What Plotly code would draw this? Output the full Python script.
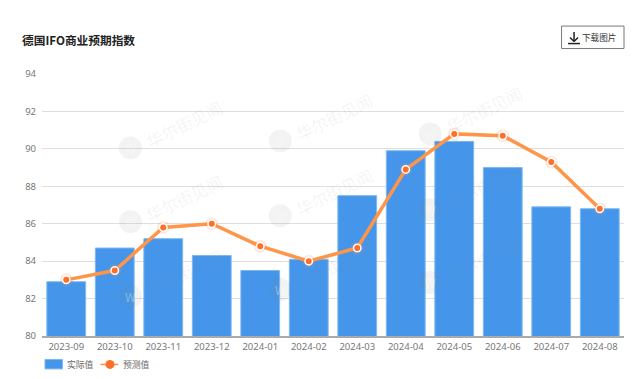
import plotly.graph_objects as go

months = ["2023-09","2023-10","2023-11","2023-12","2024-01","2024-02","2024-03","2024-04","2024-05","2024-06","2024-07","2024-08"]
actual = [82.9,84.7,85.2,84.3,83.5,84.1,87.5,89.9,90.4,89.0,86.9,86.8]
forecast = [83.0,83.5,85.8,86.0,84.8,84.0,84.7,88.9,90.8,90.7,89.3,86.8]
y_ticks = [80,82,84,86,88,90,92,94]
title_text = "德国IFO商业预期指数"
button_text = "下载图片"
series_names = ["实际值","预测值"]
watermark_text = "华尔街见闻"
watermark_logos = [(130,148),(280,141),(430,134),(130,222),(280,216),(430,210),(130,297),(280,290),(430,283)]

W,H = 640,379
L,R,T,B = 41.5,16,74,42.5
CJK = "Noto Sans CJK SC"
ax = lambda x: (x-L)/(W-L-R)
ay = lambda y: (H-B-y)/(H-T-B)

fig = go.Figure()
fig.add_bar(x=months,y=actual,name=series_names[0],width=0.8,
            marker=dict(color="#4596EA",line=dict(color="#7DB8F2",width=1)),showlegend=False)
fig.add_scatter(x=months,y=forecast,mode="lines",line=dict(color="#FF9548",width=3.5),showlegend=False,hoverinfo="skip",cliponaxis=False)
fig.add_scatter(x=months,y=forecast,mode="markers",showlegend=False,hoverinfo="skip",cliponaxis=False,
                marker=dict(color="rgba(255,140,70,0.18)",size=13,line=dict(width=0)))
fig.add_scatter(x=months,y=forecast,mode="markers",name=series_names[1],showlegend=False,cliponaxis=False,
                marker=dict(color="#FF6F2C",size=7.5,line=dict(color="#FFFFFF",width=1.5)))

shapes=[];ann=[]
def pshape(kind,x0,y0,x1,y1,**k):
    shapes.append(dict(type=kind,xref="paper",yref="paper",x0=ax(x0),x1=ax(x1),y0=ay(y0),y1=ay(y1),**k))
def ptext(x,y,t,size,color,anchor="left",**k):
    ann.append(dict(xref="paper",yref="paper",x=ax(x),y=ay(y),text=t,showarrow=False,xanchor=anchor,yanchor="middle",
                    font=dict(family=CJK,size=size,color=color),**k))

for (lx,ly) in watermark_logos:
    pshape("circle",lx-11.5,ly-11.5,lx+11.5,ly+11.5,fillcolor="rgba(120,120,120,0.09)",line=dict(width=0),layer="above")
    ptext(lx,ly,"W",12,"rgba(255,255,255,0.35)",anchor="center")
    ptext(lx+54,ly-24,watermark_text,16.5,"rgba(120,120,120,0.09)",anchor="center",textangle=-26)

# download button
pshape("rect",561.5,26,624,48.5,line=dict(color="#777777",width=1),fillcolor="#FFFFFF")
pshape("line",568,43.5,580,43.5,line=dict(color="#222222",width=1.5))
pshape("line",574,32,574,41,line=dict(color="#222222",width=1.5))
pshape("line",570,37.5,574,41.5,line=dict(color="#222222",width=1.5))
pshape("line",578,37.5,574,41.5,line=dict(color="#222222",width=1.5))
ptext(580,37,button_text,8.6,"#333333")

# legend
pshape("rect",44.5,360,62,369.5,fillcolor="#4596EA",line=dict(color="#7DB8F2",width=1))
ptext(64.5,365,series_names[0],8.8,"#666666")
pshape("line",100,365,118,365,line=dict(color="#FF9548",width=1.5))
pshape("circle",105,360.5,114,369.5,fillcolor="#FF6F2C",line=dict(color="#FFFFFF",width=0))
ptext(120.5,365,series_names[1],8.8,"#666666")

fig.update_layout(
    width=W,height=H,autosize=False,
    margin=dict(l=L,r=R,t=T,b=B,pad=0),
    paper_bgcolor="#FFFFFF",plot_bgcolor="#FFFFFF",
    title=dict(text=title_text,x=22/W,xanchor="left",y=1-41/H,yanchor="middle",
               font=dict(family=CJK,size=11.7,color="#222222",weight="bold")),
    shapes=shapes,annotations=ann,showlegend=False,bargap=0.2,
    xaxis=dict(type="category",range=[-0.5,11.5],showgrid=False,showline=True,linecolor="#AAAAAA",linewidth=1.5,
               ticks="",tickfont=dict(family="Noto Sans",size=9.5,color="#777777"),ticklabelstandoff=1),
    yaxis=dict(range=[80,94],tickvals=y_ticks,showgrid=True,gridcolor="#DEDEDE",gridwidth=1,zeroline=False,
               ticks="",tickfont=dict(family="Noto Sans",size=9.5,color="#777777"),ticklabelstandoff=5),
)
fig.write_html("out.html",post_script="document.body.style.margin='0';",config=dict(displayModeBar=False))
